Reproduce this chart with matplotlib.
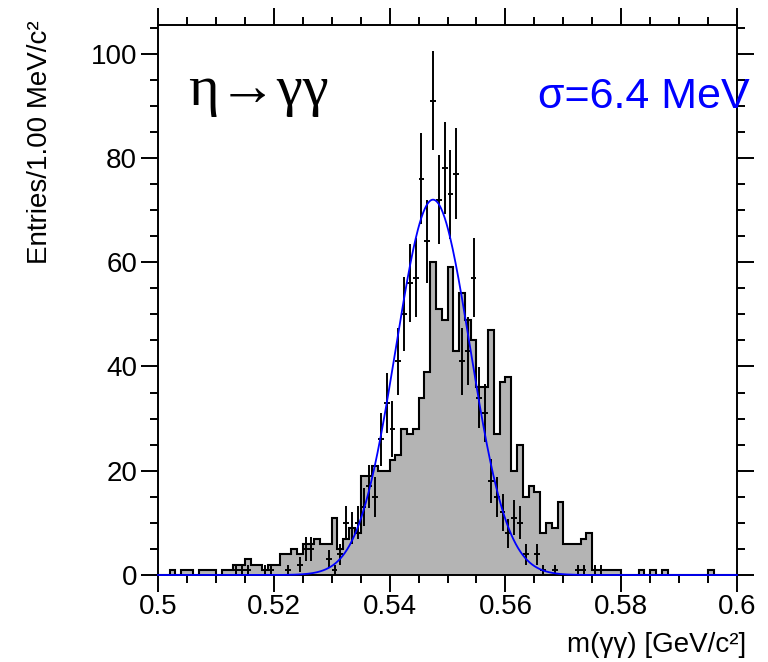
import numpy as np
import matplotlib
matplotlib.use('Agg')
import matplotlib.pyplot as plt
from matplotlib.ticker import MultipleLocator, FuncFormatter

plt.rcParams['font.family'] = ['Liberation Sans', 'DejaVu Sans']

# binning: 1 MeV bins from 0.5 to 0.6 GeV
m_lo = 0.5
m_hi = 0.6
n_bins = 100

# gray histogram (entries per bin)
hist_counts = [0, 0, 1, 0, 1, 1, 0, 1, 1, 1,
               0, 1, 1, 2, 2, 3, 2, 2, 1, 2,
               2, 4, 4, 5, 4, 6, 6, 7, 6, 6,
               11, 5, 7, 9, 8, 19, 19, 21, 20, 20,
               22, 23, 28, 27, 28, 34, 39, 60, 51, 49,
               59, 43, 54, 49, 45, 36, 36, 47, 27, 37,
               38, 20, 25, 15, 17, 16, 8, 10, 9, 14,
               6, 6, 6, 7, 8, 1, 1, 1, 1, 1,
               0, 0, 0, 1, 0, 1, 0, 1, 0, 0,
               0, 0, 0, 0, 0, 1, 0, 0, 0, 0]

# crosses with error bars (0 = not drawn)
point_counts = [0, 0, 0, 0, 0, 0, 0, 0, 0, 0,
                0, 0, 0, 1, 1, 1, 0, 0, 1, 1,
                0, 0, 1, 0, 2, 5, 5, 0, 0, 3,
                1, 4, 10, 9, 10, 13, 17, 15, 26, 33,
                28, 41, 50, 56, 57, 76, 64, 91, 72, 78,
                73, 77, 41, 43, 57, 34, 31, 18, 15, 12,
                8, 11, 10, 4, 0, 4, 1, 0, 1, 0,
                0, 0, 1, 1, 0, 1, 1, 0, 0, 0,
                0, 0, 0, 0, 0, 0, 0, 0, 0, 0,
                0, 0, 0, 0, 0, 0, 0, 0, 0, 0]

# gaussian fit
fit_amp = 72.0
fit_mean = 0.5475
fit_sigma = 0.0064

edges = np.linspace(m_lo, m_hi, n_bins + 1)
centers = 0.5 * (edges[:-1] + edges[1:])
half_w = 0.5 * (edges[1] - edges[0])
hist = np.array(hist_counts, dtype=float)
pts = np.array(point_counts, dtype=float)

fig = plt.figure(figsize=(7.68, 6.62), dpi=100)
ax = fig.add_axes([158/768., 1-575/662., 579/768., 550/662.])

ax.stairs(hist, edges, fill=True, color='#b4b4b4', lw=0, zorder=1)
ax.stairs(hist, edges, color='k', lw=1.5, zorder=2)

sel = pts > 0
ax.errorbar(centers[sel], pts[sel], xerr=half_w, yerr=np.sqrt(pts[sel]),
            fmt='none', ecolor='k', elinewidth=1.4, capsize=0, zorder=3)

xx = np.linspace(m_lo, m_hi, 1001)
yy = fit_amp * np.exp(-0.5 * ((xx - fit_mean) / fit_sigma) ** 2)
ax.plot(xx, yy, color='#0000ff', lw=1.3, zorder=4, clip_on=False)

ax.set_xlim(m_lo, m_hi)
ax.set_ylim(0, 105.5)

ax.xaxis.set_major_locator(MultipleLocator(0.02))
ax.xaxis.set_minor_locator(MultipleLocator(0.005))
ax.yaxis.set_major_locator(MultipleLocator(20))
ax.yaxis.set_minor_locator(MultipleLocator(5))
ax.xaxis.set_major_formatter(FuncFormatter(lambda v, p: '%g' % round(v, 3)))

ax.tick_params(which='both', direction='out', top=True, right=True,
               width=1.4, labelsize=20)
ax.tick_params(which='major', length=12)
ax.tick_params(which='minor', length=6)
ax.tick_params(axis='x', pad=2)
ax.tick_params(axis='y', pad=3)
for s in ax.spines.values():
    s.set_linewidth(1.4)

fig.text(40/768., 1-20/662., 'Entries/1.00 MeV/c\u00b2', rotation=90,
         ha='center', va='top', fontsize=20)
fig.text(746/768., 1-658/662., 'm(\u03b3\u03b3) [GeV/c\u00b2]',
         ha='right', va='bottom', fontsize=20)

fig.text(188/768., 1-105/662., '\u03b7\u2192\u03b3\u03b3', fontsize=42,
         family=['Liberation Serif', 'DejaVu Serif'], ha='left', va='baseline')
fig.text(750/768., 1-108/662., '\u03c3=6.4 MeV', fontsize=31, color='#0000ff',
         ha='right', va='baseline')

fig.savefig('out.png', dpi=100)
